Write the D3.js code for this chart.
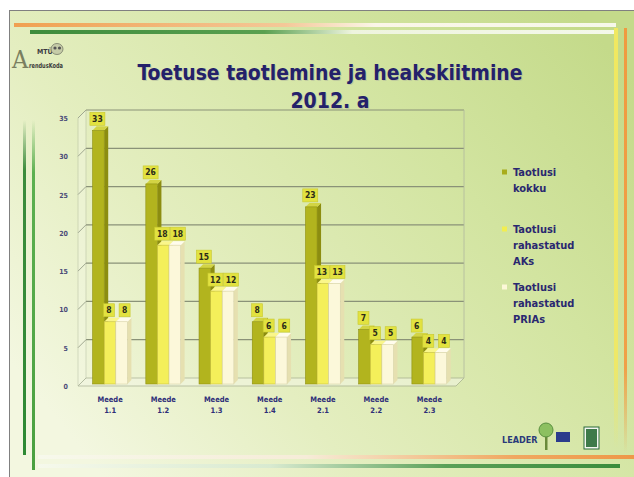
<!DOCTYPE html>
<html><head><meta charset="utf-8">
<script src="https://cdn.jsdelivr.net/npm/d3@7/dist/d3.min.js"></script>
<style>html,body{margin:0;padding:0;background:#fff;}svg{display:block;}</style>
</head><body>
<svg id="c" width="634" height="477"></svg>
<script>
const categories = ["1.1","1.2","1.3","1.4","2.1","2.2","2.3"];
const seriesNames = [["Taotlusi","kokku"],["Taotlusi","rahastatud","AKs"],["Taotlusi","rahastatud","PRIAs"]];
const kokku = [33,26,15,8,23,7,6];
const aks   = [8,18,12,6,13,5,4];
const prias = [8,18,12,6,13,5,4];
const yTicks = [0,5,10,15,20,25,30,35];
const titleLines = ["Toetuse taotlemine ja heakskiitmine","2012. a"];

const svg = d3.select("#c");
const defs = svg.append("defs");
function lg(id, x1,y1,x2,y2, stops){
  const g = defs.append("linearGradient").attr("id",id).attr("x1",x1).attr("y1",y1).attr("x2",x2).attr("y2",y2);
  stops.forEach(s=>g.append("stop").attr("offset",s[0]).attr("stop-color",s[1]).attr("stop-opacity",s[2]===undefined?1:s[2]));
}
lg("bg","0","0.75","1","0.15",[[0,"#f3f7e0"],[0.3,"#e4eec0"],[0.7,"#d2e4a0"],[1,"#c4da8a"]]);
lg("topOr","0","0","1","0",[[0,"#f0a050"],[0.45,"#f4c898"],[0.6,"#fbf6e8"],[1,"#f6f8ea"]]);
lg("topGr","0","0","1","0",[[0,"#3e8c3c"],[0.4,"#5aa050"],[0.55,"#eef4de"],[1,"#f4f8ea"]]);
lg("botOr","0","0","1","0",[[0,"#f7f9ec"],[0.45,"#f6ecd8"],[0.8,"#f0a860"],[1,"#ee9848"]]);
lg("botGr","0","0","1","0",[[0,"#f6f9ec"],[0.4,"#d8ead0"],[0.7,"#5aa058"],[1,"#3a8c3c"]]);
lg("rightY","0","0","0","1",[[0,"#f0e860"],[0.8,"#eee868"],[1,"#eee868",0]]);
lg("rightO","0","0","0","1",[[0,"#f09a40"],[0.8,"#f0a048"],[1,"#f0a048",0]]);
lg("leftG","0","0","0","1",[[0,"#3c8c3c",0],[0.15,"#3c8c3c"],[1,"#2e8a34"]]);
lg("leftG2","0","0","0","1",[[0,"#5cb050",0],[0.15,"#5cb050"],[1,"#4aa040"]]);

// slide
svg.append("rect").attr("x",9).attr("y",10).attr("width",625).attr("height",467).attr("fill","url(#bg)");
svg.append("line").attr("x1",9).attr("x2",634).attr("y1",10.5).attr("y2",10.5).attr("stroke","#808080");
svg.append("line").attr("x1",9.5).attr("x2",9.5).attr("y1",10).attr("y2",477).attr("stroke","#808080");

// decorative lines
svg.append("rect").attr("x",14).attr("y",23).attr("width",602).attr("height",4).attr("fill","url(#topOr)");
svg.append("rect").attr("x",30).attr("y",30).attr("width",586).attr("height",4).attr("fill","url(#topGr)");
svg.append("rect").attr("x",614).attr("y",28).attr("width",4).attr("height",420).attr("fill","url(#rightY)");
svg.append("rect").attr("x",624).attr("y",28).attr("width",3).attr("height",425).attr("fill","url(#rightO)");
svg.append("rect").attr("x",23).attr("y",120).attr("width",3).attr("height",335).attr("fill","url(#leftG)");
svg.append("rect").attr("x",32).attr("y",120).attr("width",3).attr("height",350).attr("fill","url(#leftG2)");
svg.append("rect").attr("x",38).attr("y",455).attr("width",596).attr("height",4).attr("fill","url(#botOr)");
svg.append("rect").attr("x",38).attr("y",464).attr("width",582).attr("height",4).attr("fill","url(#botGr)");

// logo top-left
const logo = svg.append("g");
logo.append("text").attr("x",12).attr("y",68).attr("font-family","DejaVu Serif Condensed").attr("font-size",25).attr("fill","#7a7f60").text("A");
logo.append("text").attr("x",37).attr("y",54).attr("font-family","DejaVu Sans Condensed").attr("font-weight","bold").attr("font-size",7).attr("fill","#3a3a40").text("MTÜ");
logo.append("text").attr("x",29).attr("y",68).attr("font-family","DejaVu Sans Condensed").attr("font-weight","bold").attr("font-size",7).attr("fill","#3a3a3a").attr("textLength",34).attr("lengthAdjust","spacingAndGlyphs").text("rendusKoda");
logo.append("ellipse").attr("cx",57).attr("cy",49).attr("rx",6).attr("ry",5.5).attr("fill","#c6cca8").attr("stroke","#8a8f78");
logo.append("circle").attr("cx",55).attr("cy",48).attr("r",1.6).attr("fill","#555");
logo.append("circle").attr("cx",59.5).attr("cy",48).attr("r",1.6).attr("fill","#555");

// title
const title = svg.append("g").attr("font-family","DejaVu Sans Condensed").attr("font-weight","bold").attr("text-anchor","middle");
[[titleLines[0],330,80,385],[titleLines[1],330,108,null]].forEach(([t,x,y,w])=>{
  title.append("text").attr("x",x+1).attr("y",y+1).attr("font-size",21).attr("fill","#b8c0a0").attr("opacity",0.7).text(t).attr("textLength",w).attr("lengthAdjust","spacingAndGlyphs");
  title.append("text").attr("x",x).attr("y",y).attr("font-size",21).attr("fill","#24216a").text(t).attr("textLength",w).attr("lengthAdjust","spacingAndGlyphs");
});

// chart
const DX = 8, DY = -8;
const y = d3.scaleLinear().domain([0,35]).range([386,118]);
const x = d3.scaleBand().domain(categories).range([83.5,456]).paddingInner(0).paddingOuter(0);
const left = 78, right = 456;
const grid = svg.append("g");
grid.append("path").attr("d",`M${left},${y(0)} L${right},${y(0)} L${right+DX},${y(0)+DY} L${left+DX},${y(0)+DY} Z`)
  .attr("fill","#f2f6e2").attr("opacity",0.6).attr("stroke","#9aa288").attr("stroke-width",1);
grid.append("path").attr("d",`M${left},${y(0)} L${left},${y(35)} L${left+DX},${y(35)+DY} L${left+DX},${y(0)+DY} Z`)
  .attr("fill","#f4f8e4").attr("opacity",0.4).attr("stroke","#a8b098").attr("stroke-width",1);
yTicks.forEach(v=>{
  if(v===0) return;
  grid.append("line").attr("x1",left+DX).attr("x2",right+DX).attr("y1",y(v)+DY).attr("y2",y(v)+DY).attr("stroke","#8a9278").attr("stroke-width",1.2);
  grid.append("line").attr("x1",left).attr("x2",left+DX).attr("y1",y(v)).attr("y2",y(v)+DY).attr("stroke","#a0a890").attr("stroke-width",1);
});
grid.append("line").attr("x1",right+DX).attr("x2",right+DX).attr("y1",y(0)+DY).attr("y2",y(35)+DY).attr("stroke","#b0b8a0").attr("stroke-width",0.8);

// y axis labels
const yAxis = d3.axisLeft(y).tickValues(yTicks).tickSize(0).tickPadding(0);
const ya = svg.append("g").attr("transform","translate(68,0)").call(yAxis);
ya.select(".domain").remove();
ya.selectAll("text").attr("font-family","DejaVu Sans Condensed").attr("font-weight","bold").attr("font-size",7).attr("fill","#4a4a78").attr("dy","0.35em");

// bars
const series = [
  {vals:kokku, front:"#b2b41e", side:"#8c8d10", top:"#d2d444", edge:"#8f9012", lo:-1},
  {vals:aks,   front:"#f4ef5a", side:"#d6cf38", top:"#faf68a", edge:"#c8c040", lo:-1},
  {vals:prias, front:"#fcf8da", side:"#e6e0b0", top:"#fffcec", edge:"#d8d2a8", lo:3}
];
const bw = 11.6, bd = 4;
const bars = svg.append("g");
const labels = svg.append("g");
series.forEach((s,si)=>{
  categories.forEach((c,ci)=>{
    const v = s.vals[ci];
    const cx = x(c) + x.bandwidth()/2;
    const x0 = cx - 17.5 + si*bw;
    const yt = y(v) - 3, yb = y(0) - 2;
    bars.append("path").attr("d",`M${x0+bw},${yb} L${x0+bw+bd},${yb-bd} L${x0+bw+bd},${yt-bd} L${x0+bw},${yt} Z`).attr("fill",s.side);
    bars.append("path").attr("d",`M${x0},${yt} L${x0+bd},${yt-bd} L${x0+bw+bd},${yt-bd} L${x0+bw},${yt} Z`).attr("fill",s.top);
    bars.append("rect").attr("x",x0).attr("y",yt).attr("width",bw).attr("height",yb-yt).attr("fill",s.front).attr("stroke",s.edge).attr("stroke-width",0.6);
  });
});
series.forEach((s,si)=>{
  categories.forEach((c,ci)=>{
    const v = s.vals[ci];
    const cx = x(c) + x.bandwidth()/2;
    const x0 = cx - 17.5 + si*bw;
    const yt = y(v) - 3;
    const lx = x0 + bw/2 + s.lo, ly = yt - bd - 1;
    const w = String(v).length > 1 ? 15 : 11;
    labels.append("rect").attr("x",lx-w/2).attr("y",ly-13).attr("width",w).attr("height",13).attr("fill","#e2e240").attr("stroke","#c8c830").attr("stroke-width",0.6);
    labels.append("text").attr("x",lx).attr("y",ly-3.5).attr("text-anchor","middle").attr("font-family","DejaVu Sans Condensed").attr("font-weight","bold").attr("font-size",8.5).attr("fill","#2c2c18").text(v);
  });
});

// x labels
const xl = svg.append("g").attr("font-family","DejaVu Sans Condensed").attr("font-weight","bold").attr("font-size",7.5).attr("fill","#2e2e78").attr("text-anchor","middle");
categories.forEach(c=>{
  const cx = x(c)+x.bandwidth()/2;
  xl.append("text").attr("x",cx).attr("y",402).text("Meede");
  xl.append("text").attr("x",cx).attr("y",413).text(c);
});

// legend
const legY = [172,229,287];
const legColors = ["#a8ac1c","#f2ee50","#fcf8d8"];
const leg = svg.append("g");
seriesNames.forEach((lines,i)=>{
  leg.append("rect").attr("x",502).attr("y",legY[i]-2.5).attr("width",5).attr("height",5).attr("fill",legColors[i]);
  lines.forEach((t,j)=>{
    leg.append("text").attr("x",513).attr("y",legY[i]+4+j*16).attr("font-family","DejaVu Sans Condensed").attr("font-weight","bold").attr("font-size",11).attr("fill","#2a2870").text(t);
  });
});

// bottom-right logos
const br = svg.append("g");
br.append("text").attr("x",502).attr("y",443).attr("font-family","DejaVu Sans Condensed").attr("font-weight","bold").attr("font-size",9).attr("fill","#2a3a7a").text("LEADER");
br.append("rect").attr("x",545).attr("y",434).attr("width",2.5).attr("height",16).attr("fill","#6a8a3a");
br.append("circle").attr("cx",546).attr("cy",430).attr("r",7).attr("fill","#8cc060").attr("stroke","#5a9040");
br.append("rect").attr("x",556).attr("y",432).attr("width",14).attr("height",10).attr("fill","#2c3c8c");
br.append("rect").attr("x",584).attr("y",427).attr("width",15).attr("height",22).attr("fill","#f4f6f0").attr("stroke","#2a6a3a");
br.append("rect").attr("x",586).attr("y",429).attr("width",11).attr("height",18).attr("fill","#3e7a4a");
</script>
</body></html>
